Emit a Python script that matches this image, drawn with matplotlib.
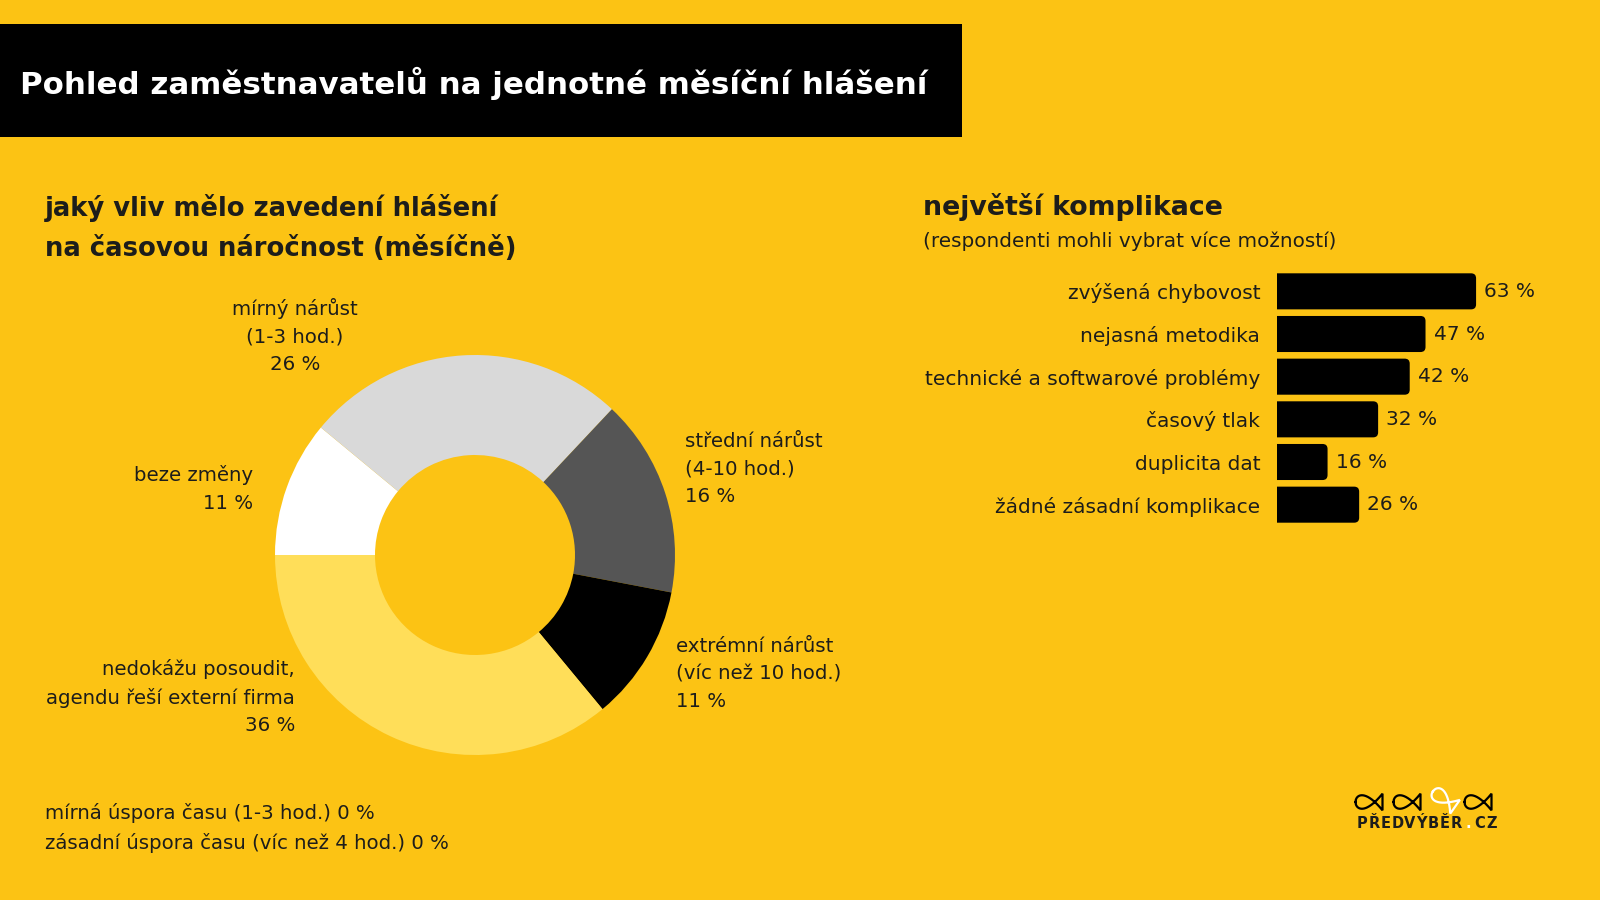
import numpy as np
import matplotlib.pyplot as plt
from matplotlib.patches import Rectangle, FancyBboxPatch

BG = '#fcc314'
INK = '#1d1d1b'

title = 'Pohled zaměstnavatelů na jednotné měsíční hlášení'

# donut: clockwise from the left horizontal
pie_labels = ['beze změny', 'mírný nárůst\n(1-3 hod.)', 'střední nárůst\n(4-10 hod.)',
              'extrémní nárůst\n(víc než 10 hod.)', 'nedokážu posoudit,\nagendu řeší externí firma']
pie_values = [11, 26, 16, 11, 36]
pie_colors = ['#ffffff', '#d9d9d9', '#555555', '#000000', '#ffde59']
zero_items = ['mírná úspora času (1-3 hod.)', 'zásadní úspora času (víc než 4 hod.)']
zero_values = [0, 0]

# complications bars
bar_labels = ['zvýšená chybovost', 'nejasná metodika', 'technické a softwarové problémy',
              'časový tlak', 'duplicita dat', 'žádné zásadní komplikace']
bar_values = [63, 47, 42, 32, 16, 26]

W, H = 1600, 900
plt.rcParams['font.family'] = ['DejaVu Sans']
fig = plt.figure(figsize=(16, 9), dpi=100, facecolor=BG)

def fr(x0, y0, x1, y1):
	# pixel box (top-left origin) -> figure rect
	return [x0 / W, 1 - y1 / H, (x1 - x0) / W, (y1 - y0) / H]

# donut
axp = fig.add_axes(fr(275, 355, 675, 755))
axp.pie(pie_values, colors=pie_colors, startangle=180, counterclock=False,
	radius=1, wedgeprops=dict(width=0.5, linewidth=0))
axp.set_xlim(-1, 1)
axp.set_ylim(-1, 1)
axp.set_facecolor('none')

# bars
px_per_pct = 3.16
x0 = 1277
axb = fig.add_axes(fr(x0, 270, x0 + 300, 526))
axb.set_facecolor('none')
y = np.arange(len(bar_values))
bars = axb.barh(y, bar_values, height=0.845, color='none')
axb.set_xlim(0, 300 / px_per_pct)
axb.set_ylim(len(bar_values) - 0.5, -0.5)
ypx = 256 / len(bar_values)
r = 5
for b in bars:
	bx, by = b.get_x(), b.get_y()
	bw, bh = b.get_width(), b.get_height()
	p = FancyBboxPatch((bx - 4, by), bw + 4, bh,
		boxstyle='round,pad=0,rounding_size=%f' % (r / px_per_pct),
		mutation_aspect=(r / ypx) / (r / px_per_pct),
		fc='black', ec='none', clip_on=True)
	axb.add_patch(p)
axb.bar_label(bars, labels=['%d %%' % v for v in bar_values], padding=6,
	fontsize=14.5, color=INK)
axb.set_yticks(y, bar_labels, fontsize=14.5, color=INK)
axb.tick_params(axis='y', length=0, pad=12)
axb.set_xticks([])
for s in axb.spines.values():
	s.set_visible(False)

# overlay for the rest
ax = fig.add_axes([0, 0, 1, 1], zorder=5)
ax.set_xlim(0, W)
ax.set_ylim(H, 0)
ax.axis('off')
ax.set_facecolor('none')

ax.add_patch(Rectangle((0, 24), 962, 113, fc='black', ec='none'))
ax.text(20, 83, title, color='white', fontsize=22.2, fontweight='bold', va='center')

ax.text(45, 228, 'jaký vliv mělo zavedení hlášení\nna časovou náročnost (měsíčně)',
	fontsize=18.6, fontweight='bold', color=INK, va='center', linespacing=1.7)
ax.text(923, 207, 'největší komplikace', fontsize=19.3, fontweight='bold', color=INK, va='center')
ax.text(923, 241, '(respondenti mohli vybrat více možností)', fontsize=14.4, color=INK, va='center')

lab = dict(fontsize=14.2, color=INK, va='center', linespacing=1.58)
txt = ['%s\n%d %%' % (l, v) for l, v in zip(pie_labels, pie_values)]
ax.text(253, 489, txt[0], ha='right', multialignment='right', **lab)
ax.text(295, 336, txt[1], ha='center', multialignment='center', **lab)
ax.text(685, 469, txt[2], ha='left', **lab)
ax.text(676, 674, txt[3], ha='left', **lab)
ax.text(295, 697, txt[4], ha='right', multialignment='right', **lab)
ax.text(45, 828, '\n'.join('%s %d %%' % (l, v) for l, v in zip(zero_items, zero_values)),
	ha='left', **lab)

# logo: little fish outlines (head left, crossed tail right)
u = np.linspace(0, 1.4, 80)
up = 0.65 * np.sqrt(u) * (1 - u)
fx = np.concatenate([u, u[::-1]]) / 1.4 - 0.5
fy = np.concatenate([up, -up[::-1]])
fx = np.append(fx, fx[0])
fy = np.append(fy, fy[0])
fish = [(1369, 802, 0, 'black'), (1407, 802, 0, 'black'),
	(1444, 799, -35, 'white'), (1478, 802, 0, 'black')]
for cx, cy, a, c in fish:
	ang = np.radians(a)
	sx, sy = 27, 27
	gx = sx * fx * np.cos(ang) - sy * fy * np.sin(ang)
	gy = sx * fx * np.sin(ang) + sy * fy * np.cos(ang)
	ax.plot(cx + gx, cy - gy, color=c, lw=1.6, solid_joinstyle='miter')
for i, ch in enumerate('PŘEDVÝBĚR.CZ'):
	ax.text(1362 + i * 11.8, 824, ch, fontsize=10.5, fontweight='bold',
		color='white' if ch == '.' else INK, ha='center', va='center')

fig.savefig('out.png', dpi=100, facecolor=BG)
